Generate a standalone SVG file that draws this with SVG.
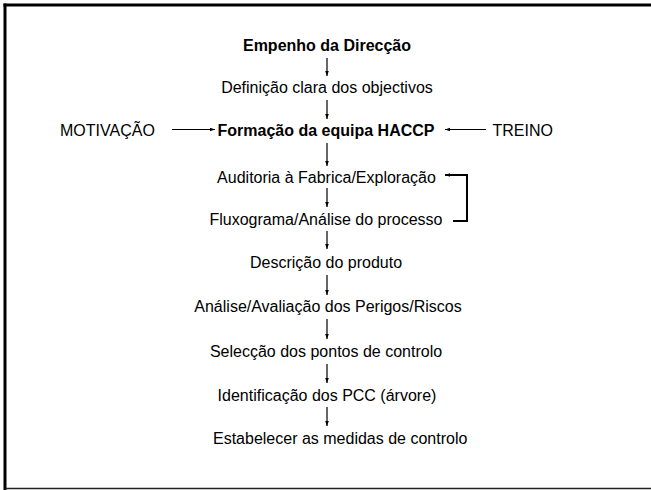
<svg xmlns="http://www.w3.org/2000/svg" width="651" height="490" viewBox="0 0 651 490">
<defs>
<style>
text{font-family:"Liberation Sans",Arial,sans-serif;font-size:16px;fill:#000}
.b{font-weight:bold}
.c{text-anchor:middle}
.ln{stroke:#000;stroke-width:1.2;fill:none}
.br{stroke:#000;stroke-width:2;fill:none}
</style>
<marker id="ah" markerUnits="userSpaceOnUse" markerWidth="8" markerHeight="8" refX="5" refY="2" orient="auto">
<path d="M0,0.2 L5,2 L0,3.8 z" fill="#000"/>
</marker>
</defs>
<rect width="651" height="490" fill="#fff"/>
<g id="frame">
<line x1="3.5" y1="5" x2="651" y2="5" stroke="#000" stroke-width="3"/>
<line x1="5" y1="3.5" x2="5" y2="490" stroke="#000" stroke-width="3"/>
<line x1="5" y1="488.5" x2="651" y2="488.5" stroke="#222" stroke-width="1.5"/>
</g>
<g id="n1"><text class="b c" x="327" y="51">Empenho da Direcção</text></g>
<g id="n2"><text class="c" x="327" y="93">Definição clara dos objectivos</text></g>
<g id="n3"><text class="b c" x="326" y="136">Formação da equipa HACCP</text></g>
<g id="motivacao"><text x="60" y="136">MOTIVAÇÃO</text></g>
<g id="treino"><text x="492.5" y="136">TREINO</text></g>
<g id="n4"><text class="c" x="326.5" y="183">Auditoria à Fabrica/Exploração</text></g>
<g id="n5"><text class="c" x="326" y="225">Fluxograma/Análise do processo</text></g>
<g id="n6"><text class="c" x="326" y="268">Descrição do produto</text></g>
<g id="n7"><text class="c" x="328" y="312">Análise/Avaliação dos Perigos/Riscos</text></g>
<g id="n8"><text class="c" x="326" y="357">Selecção dos pontos de controlo</text></g>
<g id="n9"><text class="c" x="327" y="401">Identificação dos PCC (árvore)</text></g>
<g id="n10"><text x="213" y="444">Estabelecer as medidas de controlo</text></g>
<g id="connectors">
<line class="ln" x1="327" y1="58" x2="327" y2="76" marker-end="url(#ah)"/>
<line class="ln" x1="327" y1="100" x2="327" y2="119" marker-end="url(#ah)"/>
<line class="ln" x1="327" y1="143" x2="327" y2="166" marker-end="url(#ah)"/>
<line class="ln" x1="327" y1="188" x2="327" y2="207" marker-end="url(#ah)"/>
<line class="ln" x1="327" y1="231" x2="327" y2="249" marker-end="url(#ah)"/>
<line class="ln" x1="327" y1="275" x2="327" y2="295" marker-end="url(#ah)"/>
<line class="ln" x1="327" y1="319" x2="327" y2="339" marker-end="url(#ah)"/>
<line class="ln" x1="327" y1="364" x2="327" y2="383" marker-end="url(#ah)"/>
<line class="ln" x1="327" y1="407" x2="327" y2="426" marker-end="url(#ah)"/>
<line class="ln" x1="172" y1="129.5" x2="215" y2="129.5" marker-end="url(#ah)"/>
<line class="ln" x1="486" y1="129.5" x2="445" y2="129.5" marker-end="url(#ah)"/>
<polyline class="br" points="453,221 467,221 467,175 445,175" marker-end="url(#ah)"/>
</g>
</svg>
